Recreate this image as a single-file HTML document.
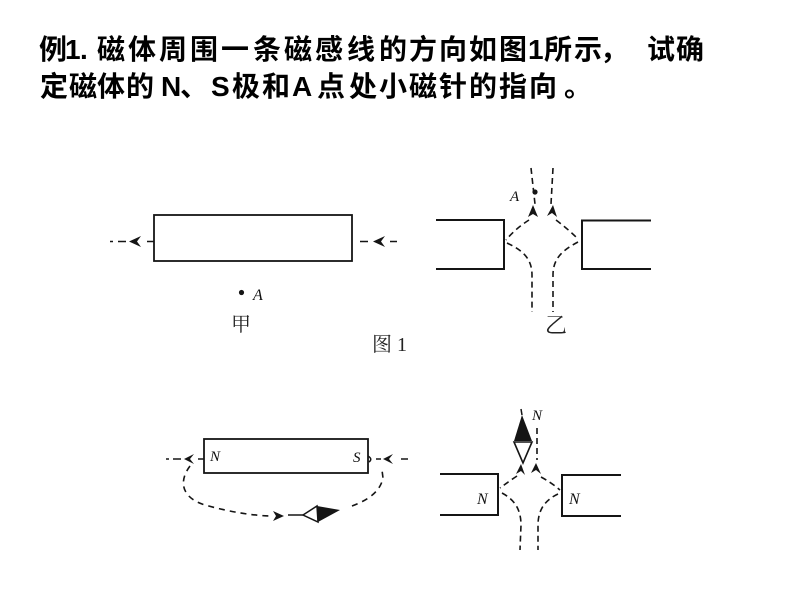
<!DOCTYPE html>
<html><head><meta charset="utf-8"><style>html,body{margin:0;padding:0;background:#fff}svg{display:block}</style></head><body>
<svg width="800" height="600" xmlns="http://www.w3.org/2000/svg">
<rect width="800" height="600" fill="#fff"/>
<g font-family="'Liberation Sans','Noto Sans CJK SC',sans-serif" font-weight="bold" font-size="28" fill="#000">
<text y="59" x="39 65 80 88 97 128 159 190 221 253 284 315 347 379 409 439 469 499 528 544 574 600 647 676">例1. 磁体周围一条磁感线的方向如图1所示，试确</text>
<text y="96" x="40 69 97 126 161 180 211 232 262 292 317 349 379 409 439 469 499 529 564">定磁体的N、S极和A点处小磁针的指向。</text>
</g>
<g stroke="#151515" fill="none">
<rect x="154" y="215" width="198" height="46" stroke-width="1.8"/>
<g stroke-width="1.5">
<line x1="110" y1="241.5" x2="113" y2="241.5"/><line x1="118" y1="241.5" x2="126" y2="241.5"/><line x1="147" y1="241.5" x2="154" y2="241.5"/>
<line x1="360" y1="241.5" x2="368" y2="241.5"/><line x1="390" y1="241.5" x2="397" y2="241.5"/>
</g>
<polyline points="436,220 504,220 504,269 436,269" stroke-width="2"/>
<polyline points="651,220.5 582,220.5 582,269 651,269" stroke-width="2"/>
<g stroke-width="1.6" stroke-dasharray="6,4">
<path d="M531,168 L535,204"/>
<path d="M553,168 L551,204"/>
<path d="M529,220 Q515,229 506,240"/>
<path d="M507,243 C522,250 532,258 532,275 L532,312"/>
<path d="M556,220 Q568,229 578,239"/>
<path d="M578,242 C563,250 553,258 553,275 L553,312"/>
</g>
<rect x="204" y="439" width="164" height="34" stroke-width="1.8"/>
<g stroke-width="1.5">
<line x1="166" y1="459" x2="169" y2="459"/><line x1="173" y1="459" x2="181" y2="459"/><line x1="198" y1="459" x2="204" y2="459"/>
<path d="M368,456 Q373,459 369,462"/>
<line x1="376" y1="459" x2="381" y2="459"/><line x1="401" y1="459" x2="408" y2="459"/>
<line x1="288" y1="515" x2="303" y2="515"/>
</g>
<g stroke-width="1.6" stroke-dasharray="6,5">
<path d="M190,466 C178,482 182,498 205,505 C230,512 255,516 272,516"/>
<path d="M352,506 C368,500 380,492 383,478 L382,470"/>
</g>
<polyline points="440,474 498,474 498,515 440,515" stroke-width="2"/>
<polyline points="621,475 562,475 562,516 621,516" stroke-width="2"/>
<line x1="521" y1="409" x2="522" y2="415" stroke-width="1.5"/>
<g stroke-width="1.6" stroke-dasharray="6,4">
<path d="M537,428 L537,460"/>
<path d="M517,476 Q508,482 500,488"/>
<path d="M502,493 C515,500 521,510 521,525 L520,550"/>
<path d="M541,477 Q552,483 560,490"/>
<path d="M558,494 C545,500 538,510 538,525 L538,550"/>
</g>
</g>
<g fill="#151515" stroke="none">
<polygon points="129,241.5 141,236 137,241.5 141,247"/>
<polygon points="373,241.5 385,236 381,241.5 385,247"/>
<polygon points="533,205 528,217 533,214 538,217"/>
<polygon points="553,205 547,216 552,213 557,217"/>
<polygon points="184,459 194,454 190,459 194,464"/>
<polygon points="383,459 393,454 389,459 393,464"/>
<polygon points="284,516 273,511 276,516 273,521"/>
<polygon points="536,463 531,473 536,470 541,474"/>
<polygon points="521,464 516,474 521,471 525,475"/>
<circle cx="241.5" cy="292.5" r="2.6"/>
<circle cx="535" cy="192" r="2.6"/>
<polygon points="317,506 340,510 318,522"/>
<polygon points="522,415 514,441 532,441"/>
</g>
<polygon points="303,515 317,506 318,522" fill="#fff" stroke="#151515" stroke-width="1.5"/>
<polygon points="514,442 532,442 523,463" fill="#fff" stroke="#151515" stroke-width="1.6"/>
<g font-family="'Liberation Serif',serif" font-style="italic" fill="#111">
<text x="253" y="300" font-size="16">A</text>
<text x="510" y="201" font-size="15">A</text>
<text x="210" y="461" font-size="15">N</text>
<text x="353" y="462" font-size="15">S</text>
<text x="477" y="504" font-size="16">N</text>
<text x="569" y="504" font-size="16">N</text>
<text x="532" y="420" font-size="15">N</text>
</g>
<g font-family="'Liberation Serif','Noto Serif CJK SC',serif" fill="#222">
<text x="231" y="331" font-size="20">甲</text>
<text x="372" y="351" font-size="20">图 1</text>
<text x="545" y="333" font-size="22">乙</text>
</g>
</svg>
</body></html>
